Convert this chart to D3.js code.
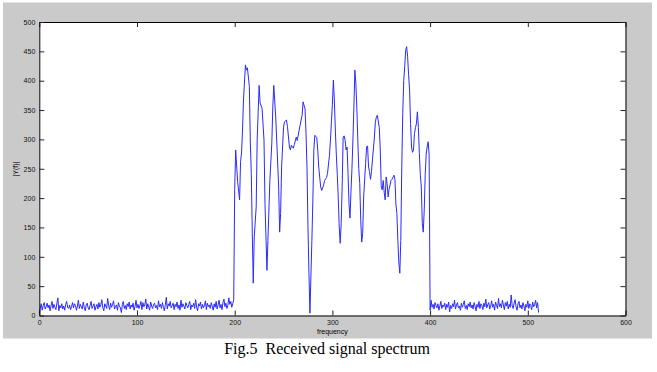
<!DOCTYPE html>
<html lang="en">
<head>
<meta charset="UTF-8">
<title>Received signal spectrum</title>
<script src="https://d3js.org/d3.v7.min.js"></script>
<style>
    body { margin: 0; background: #fff; }
    svg { display: block; }
    .tick text { font-family: "Liberation Sans", Arial, sans-serif; font-size: 7px; fill: #111; }
    .tick line { stroke: #222; }
    .caption { font-family: "Liberation Serif", "Times New Roman", serif; font-size: 16px; white-space: pre; }
</style>
</head>
<body>
<svg width="657" height="372"></svg>
<script>
// noise floor below the band, f = 0..199
const noiseLow = [
    4, 12, 20, 9, 17, 22, 11, 15, 21, 13, 18, 8, 16, 24, 12, 19, 14, 10, 21, 30,
    8, 17, 13, 20, 11, 16, 9, 19, 24, 14, 12, 18, 10, 15, 22, 13, 20, 17, 9, 16,
    26, 12, 19, 15, 11, 23, 14, 8, 18, 21, 13, 10, 17, 24, 12, 16, 20, 9, 15, 19,
    11, 22, 14, 18, 27, 13, 8, 20, 16, 12, 29, 17, 10, 21, 14, 19, 25, 11, 15, 18,
    9, 22, 16, 13, 5, 19, 24, 12, 17, 10, 20, 15, 23, 11, 18, 14, 21, 9, 16, 26,
    13, 19, 12, 17, 24, 10, 22, 15, 18, 28, 11, 20, 14, 9, 23, 16, 12, 19, 21, 13,
    17, 10, 25, 15, 19, 12, 22, 14, 8, 18, 31, 11, 20, 16, 24, 13, 17, 21, 10, 19,
    15, 23, 12, 18, 9, 26, 14, 20, 16, 11, 22, 17, 13, 19, 24, 10, 18, 15, 21, 12,
    27, 14, 8, 20, 16, 23, 11, 19, 13, 17, 25, 10, 21, 15, 18, 12, 22, 16, 9, 20,
    14, 24, 11, 18, 26, 13, 19, 10, 22, 28, 15, 21, 12, 17, 30, 19, 24, 14, 20, 27
];

// signal band
const bandFreq = [
    200, 201, 203, 205, 206, 207, 208, 209, 211, 212, 213, 215, 216, 217, 218, 219, 220, 222, 223, 225,
    226, 228, 230, 231, 233, 234, 236, 238, 239, 240, 242, 243, 245, 246, 247, 248, 250, 251, 253, 254,
    256, 257, 258, 260, 261, 263, 264, 266, 268, 269, 270, 272, 273, 274, 275, 276, 277, 279, 280, 281,
    282, 284, 285, 286, 288, 289, 291, 292, 294, 295, 297, 298, 299, 300, 301, 302, 303, 304, 305, 306,
    307, 308, 309, 310, 311, 312, 313, 314, 315, 316, 317, 318, 319, 320, 321, 322, 323, 324, 325, 326,
    327, 328, 329, 330, 331, 332, 334, 335, 336, 337, 338, 339, 340, 341, 343, 344, 345, 346, 348, 349,
    350, 351, 352, 353, 354, 355, 356, 357, 358, 359, 360, 361, 362, 363, 364, 365, 366, 367, 368, 369,
    370, 371, 372, 373, 374, 375, 376, 377, 378, 379, 380, 381, 382, 383, 384, 385, 386, 387, 388, 389,
    390, 391, 392, 393, 394, 395, 396, 397, 398, 399, 400
];
const bandMag = [
    215, 282, 228, 197, 262, 277, 316, 367, 427, 418, 422, 390, 294, 242, 140, 55, 134, 185, 299, 392,
    362, 353, 299, 191, 77, 128, 230, 294, 355, 392, 338, 299, 219, 142, 174, 253, 321, 330, 333, 322,
    287, 282, 290, 285, 291, 304, 298, 316, 333, 341, 364, 352, 310, 253, 151, 72, 4, 128, 197, 282,
    307, 303, 282, 253, 219, 213, 222, 230, 235, 242, 273, 299, 330, 360, 401, 367, 316, 275, 240, 200,
    151, 123, 157, 220, 304, 306, 299, 282, 287, 242, 191, 166, 210, 250, 299, 355, 418, 396, 355, 299,
    250, 225, 163, 125, 140, 202, 259, 287, 289, 253, 245, 232, 245, 265, 304, 330, 338, 341, 320, 282,
    219, 214, 230, 210, 197, 236, 225, 202, 215, 222, 230, 232, 235, 239, 232, 190, 174, 128, 90, 72,
    128, 253, 344, 400, 424, 452, 458, 441, 410, 384, 327, 287, 278, 282, 310, 320, 327, 347, 320, 276,
    240, 219, 157, 142, 180, 240, 275, 287, 296, 275, 9
];

// noise floor above the band, f = 401..511
const noiseHigh = [
    26, 14, 19, 11, 22, 17, 13, 20, 9, 16, 24, 12, 18, 15, 21, 10, 19, 14, 23, 6,
    17, 12, 20, 15, 26, 11, 18, 22, 13, 16, 9, 21, 14, 19, 25, 12, 17, 10, 20, 15,
    23, 13, 18, 11, 22, 16, 8, 19, 14, 24, 12, 20, 17, 10, 21, 15, 28, 13, 18, 22,
    11, 16, 25, 14, 19, 9, 23, 17, 12, 29, 15, 20, 13, 26, 18, 10, 22, 16, 24, 11,
    19, 14, 35, 17, 12, 21, 27, 15, 9, 20, 24, 13, 18, 11, 22, 16, 8, 19, 14, 25,
    12, 20, 17, 10, 23, 15, 18, 26, 13, 22, 5
];

const xTicks = [0, 100, 200, 300, 400, 500, 600];
const yTicks = [0, 50, 100, 150, 200, 250, 300, 350, 400, 450, 500];

const series = [
    ...noiseLow.map((v, i) => [i, v]),
    ...bandFreq.map((f, i) => [f, bandMag[i]]),
    ...noiseHigh.map((v, i) => [401 + i, v])
];

const svg = d3.select("svg");
const axLeft = 39.3, axRight = 625.5, axTop = 22, axBottom = 315.5;

const x = d3.scaleLinear().domain([0, 600]).range([axLeft, axRight]);
const y = d3.scaleLinear().domain([0, 500]).range([axBottom, axTop]);

// grey figure background
svg.append("rect")
    .attr("x", 3).attr("y", 2.5)
    .attr("width", 649).attr("height", 336)
    .attr("fill", "#cacaca");

svg.append("rect")
    .attr("x", axLeft).attr("y", axTop)
    .attr("width", axRight - axLeft).attr("height", axBottom - axTop)
    .attr("fill", "#fff");

svg.append("path")
    .datum(series)
    .attr("fill", "none")
    .attr("stroke", "#2a2aff")
    .attr("stroke-width", 1)
    .attr("d", d3.line().x(d => x(d[0])).y(d => y(d[1])));

svg.append("g")
    .attr("transform", `translate(0,${axBottom})`)
    .call(d3.axisBottom(x).tickValues(xTicks).tickSize(-5).tickPadding(5).tickSizeOuter(0))
    .call(g => g.select(".domain").attr("stroke", "#000"));

svg.append("g")
    .attr("transform", `translate(0,${axTop})`)
    .call(d3.axisTop(x).tickValues(xTicks).tickSize(-5).tickFormat("").tickSizeOuter(0))
    .call(g => g.select(".domain").attr("stroke", "#000"));

svg.append("g")
    .attr("transform", `translate(${axLeft},0)`)
    .call(d3.axisLeft(y).tickValues(yTicks).tickSize(-5).tickPadding(4).tickSizeOuter(0))
    .call(g => g.select(".domain").attr("stroke", "#000"));

svg.append("g")
    .attr("transform", `translate(${axRight},0)`)
    .call(d3.axisRight(y).tickValues(yTicks).tickSize(-5).tickFormat("").tickSizeOuter(0))
    .call(g => g.select(".domain").attr("stroke", "#000"));

svg.append("text")
    .attr("x", (axLeft + axRight) / 2).attr("y", 334)
    .attr("text-anchor", "middle")
    .style("font-family", "Liberation Sans, Arial, sans-serif")
    .style("font-size", "7px")
    .text("frequency");

svg.append("text")
    .attr("transform", "translate(18,169) rotate(-90)")
    .attr("text-anchor", "middle")
    .style("font-family", "Liberation Sans, Arial, sans-serif")
    .style("font-size", "7px")
    .text("|Y(f)|");

svg.append("text")
    .attr("class", "caption")
    .attr("x", 327).attr("y", 353.5)
    .attr("text-anchor", "middle")
    .text("Fig.5  Received signal spectrum");
</script>
</body>
</html>
